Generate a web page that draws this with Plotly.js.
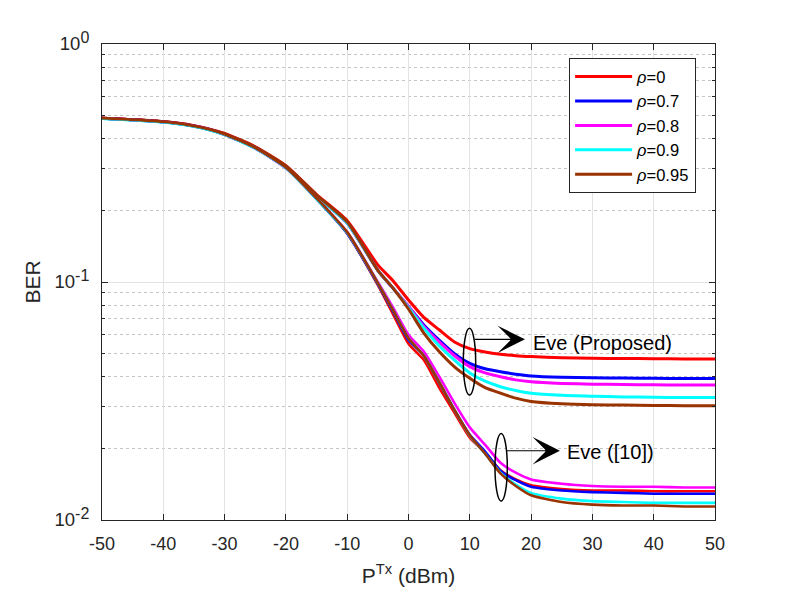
<!DOCTYPE html>
<html>
<head>
<meta charset="utf-8">
<script src="https://cdn.plot.ly/plotly-3.0.1.min.js"></script>
<style>
  body { margin: 0; background: #fff; }
  #chart { width: 789px; height: 594px; }
</style>
</head>
<body>
<div id="chart"></div>
<script>
// transmit power (dBm)
var ptx = [-50,-45,-40,-35,-30,-25,-20,-15,-10,-5,-2.5,0,2.5,5,7.5,10,12.5,15,17.5,20,25,30,35,40,45,50];

// Eve BER, proposed scheme
var prop_r0   = [0.488,0.481,0.472,0.454,0.421,0.370,0.308,0.233,0.181,0.118,0.101,0.084,0.071,0.063,0.056,0.0525,0.0508,0.0497,0.0490,0.0486,0.0481,0.0478,0.0477,0.0476,0.0475,0.0475];
var prop_r07  = [0.487,0.480,0.471,0.452,0.418,0.367,0.305,0.230,0.177,0.112,0.094,0.079,0.066,0.057,0.050,0.0455,0.0432,0.0420,0.0410,0.0403,0.0398,0.0396,0.0395,0.0394,0.0393,0.0393];
var prop_r08  = [0.487,0.480,0.471,0.452,0.418,0.367,0.305,0.230,0.177,0.112,0.094,0.079,0.065,0.056,0.049,0.0441,0.0415,0.0400,0.0388,0.0381,0.0375,0.0372,0.0371,0.0370,0.0369,0.0369];
var prop_r09  = [0.486,0.479,0.470,0.451,0.417,0.366,0.305,0.230,0.177,0.112,0.094,0.078,0.064,0.054,0.047,0.0415,0.0383,0.0363,0.0350,0.0341,0.0334,0.0331,0.0329,0.0328,0.0327,0.0327];
var prop_r095 = [0.488,0.481,0.472,0.453,0.420,0.369,0.307,0.232,0.179,0.112,0.094,0.077,0.061,0.051,0.044,0.0394,0.0360,0.0341,0.0325,0.0315,0.0308,0.0305,0.0304,0.0303,0.0302,0.0302];

// Eve BER, scheme of [10]
var ref_r0   = [0.488,0.481,0.471,0.452,0.418,0.366,0.302,0.224,0.160,0.097,0.073,0.055,0.047,0.036,0.0282,0.0222,0.0192,0.0162,0.0148,0.0140,0.0135,0.0133,0.0133,0.0132,0.0132,0.0132];
var ref_r07  = [0.487,0.480,0.470,0.451,0.416,0.364,0.301,0.223,0.160,0.098,0.075,0.057,0.049,0.0378,0.029,0.0228,0.0194,0.0161,0.0147,0.0138,0.0133,0.0131,0.0130,0.0129,0.0129,0.0129];
var ref_r08  = [0.487,0.480,0.470,0.451,0.416,0.364,0.301,0.224,0.162,0.100,0.078,0.060,0.051,0.0401,0.031,0.0245,0.0207,0.0174,0.0158,0.0148,0.0142,0.0139,0.0138,0.0138,0.0137,0.0137];
var ref_r09  = [0.486,0.479,0.469,0.450,0.415,0.364,0.301,0.223,0.161,0.099,0.076,0.058,0.049,0.038,0.029,0.0226,0.0190,0.0158,0.0141,0.0130,0.0123,0.0120,0.0119,0.0118,0.0118,0.0118];
var ref_r095 = [0.488,0.481,0.471,0.452,0.418,0.366,0.303,0.225,0.162,0.099,0.076,0.058,0.049,0.038,0.029,0.0227,0.0190,0.0157,0.0139,0.0127,0.0119,0.0116,0.0115,0.0115,0.0114,0.0114];

var rho_names = ['<i>ρ</i>=0', '<i>ρ</i>=0.7', '<i>ρ</i>=0.8', '<i>ρ</i>=0.9', '<i>ρ</i>=0.95'];
var colors = ['#ff0000', '#0000ff', '#ff00ff', '#00ffff', '#993300'];

var x_ticks = [-50,-40,-30,-20,-10,0,10,20,30,40,50];
var x_ticktext = ['-50','-40','-30','-20','-10','0','10','20','30','40','50'];
var y_ticks = [0.01, 0.1, 1];
var y_ticktext = [
  '10<span style="font-size:16px;baseline-shift:45%">-2</span>',
  '10<span style="font-size:16px;baseline-shift:45%">-1</span>',
  '10<span style="font-size:16px;baseline-shift:45%">0</span>'
];
var y_minor = [0.02,0.03,0.04,0.05,0.06,0.07,0.08,0.09,0.2,0.3,0.4,0.5,0.6,0.7,0.8,0.9];

var prop = [prop_r0, prop_r07, prop_r08, prop_r09, prop_r095];
var ref = [ref_r0, ref_r07, ref_r08, ref_r09, ref_r095];

var data = [];
for (var i = 0; i < 5; i++) {
  data.push({
    x: ptx, y: prop[i], type: 'scatter', mode: 'lines',
    name: rho_names[i], legendgroup: 'g' + i,
    line: {color: colors[i], width: 3, shape: 'spline', smoothing: 0.6}
  });
}
for (var j = 0; j < 5; j++) {
  data.push({
    x: ptx, y: ref[j], type: 'scatter', mode: 'lines',
    name: rho_names[j], legendgroup: 'g' + j, showlegend: false,
    line: {color: colors[j], width: 2.6, shape: 'spline', smoothing: 0.6}
  });
}

var family = 'Liberation Sans, Arial, Helvetica, sans-serif';

var layout = {
  width: 789, height: 594,
  margin: {l: 102, r: 74, t: 44, b: 74},
  paper_bgcolor: '#fff', plot_bgcolor: '#fff',
  font: {family: family, size: 18, color: '#262626'},
  showlegend: true,
  legend: {
    x: 0.762, y: 0.97, xanchor: 'left', yanchor: 'top',
    bordercolor: '#262626', borderwidth: 1, bgcolor: '#fff',
    font: {family: family, size: 16.5, color: '#000'},
    itemwidth: 57, tracegroupgap: 0
  },
  xaxis: {
    range: [-50, 50],
    tickmode: 'array', tickvals: x_ticks, ticktext: x_ticktext,
    ticks: 'inside', ticklen: 6, tickcolor: '#262626', ticklabelstandoff: 7,
    showline: true, linecolor: '#262626', linewidth: 1, mirror: 'ticks',
    showgrid: true, gridcolor: '#e3e3e3', gridwidth: 1, zeroline: false,
    title: {text: 'P<sup>Tx</sup> (dBm)', font: {size: 21}, standoff: 15},
    automargin: false
  },
  yaxis: {
    type: 'log', range: [-2, 0],
    tickmode: 'array', tickvals: y_ticks, ticktext: y_ticktext,
    tickfont: {size: 18.5},
    ticks: 'inside', ticklen: 6, tickcolor: '#262626', ticklabelstandoff: 8,
    showline: true, linecolor: '#262626', linewidth: 1, mirror: 'ticks',
    showgrid: true, gridcolor: '#e3e3e3', gridwidth: 1, zeroline: false,
    minor: {tickvals: y_minor, ticks: 'inside', ticklen: 3, tickcolor: '#262626',
            showgrid: true, gridcolor: '#c4c4c4', griddash: 'dot', gridwidth: 1},
    title: {text: 'BER', font: {size: 21}, standoff: 8},
    automargin: false
  },
  shapes: [
    {type: 'circle', xref: 'x', yref: 'y', x0: 8.94, x1: 10.96, y0: 0.0335, y1: 0.0639,
     line: {color: '#000', width: 1.5}},
    {type: 'circle', xref: 'x', yref: 'y', x0: 14.11, x1: 16.12, y0: 0.0120, y1: 0.0231,
     line: {color: '#000', width: 1.5}}
  ],
  annotations: [
    {x: 19.0, y: -1.241, ax: 10.6, ay: -1.241, xref: 'x', yref: 'y', axref: 'x', ayref: 'y',
     text: '', showarrow: true, arrowhead: 3, arrowsize: 3.8, arrowwidth: 1.2, arrowcolor: '#000'},
    {x: 20.0, y: -1.258, xref: 'x', yref: 'y', xanchor: 'left', yanchor: 'middle',
     text: 'Eve (Proposed)', showarrow: false, font: {family: family, size: 20, color: '#000'}},
    {x: 24.7, y: -1.709, ax: 15.8, ay: -1.709, xref: 'x', yref: 'y', axref: 'x', ayref: 'y',
     text: '', showarrow: true, arrowhead: 3, arrowsize: 3.8, arrowwidth: 1.2, arrowcolor: '#000'},
    {x: 25.6, y: -1.716, xref: 'x', yref: 'y', xanchor: 'left', yanchor: 'middle',
     text: 'Eve ([10])', showarrow: false, font: {family: family, size: 20, color: '#000'}}
  ]
};

Plotly.newPlot('chart', data, layout, {displayModeBar: false, staticPlot: true});
</script>
</body>
</html>
